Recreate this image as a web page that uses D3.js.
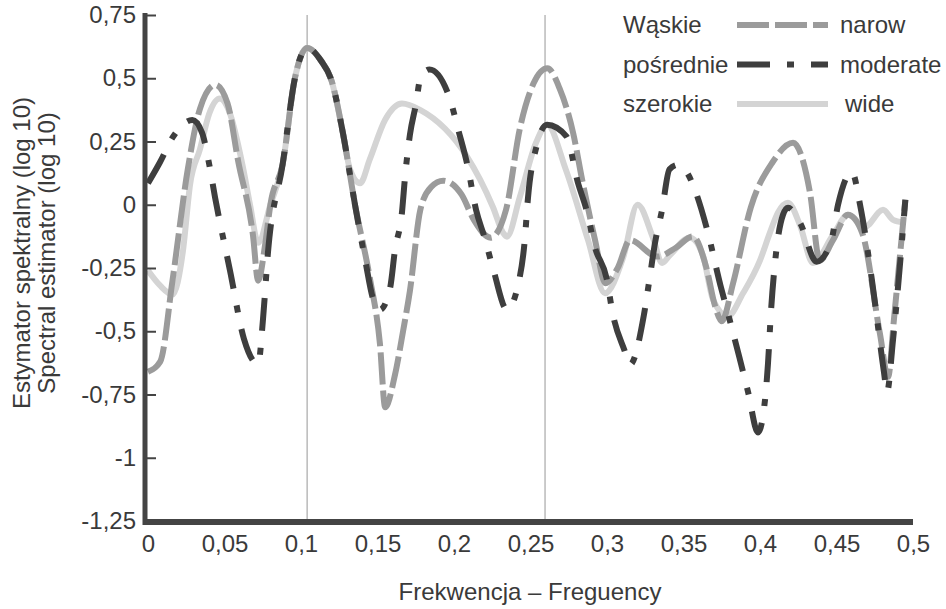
<!DOCTYPE html>
<html>
<head>
<meta charset="UTF-8">
<script src="https://d3js.org/d3.v7.min.js"></script>
<style>
  body { margin: 0; background: #fff; }
  text { font-family: "Liberation Sans", Arial, sans-serif; fill: #3a3a3a; }
</style>
</head>
<body>
<svg id="chart" width="946" height="609"></svg>
<script>
// [frequency, log10 spectral estimate]
var narow = [[0,-0.66],[0.008,-0.62],[0.016,-0.30],[0.026,0.14],[0.034,0.38],[0.044,0.474],[0.052,0.40],
  [0.059,0.17],[0.0686,-0.12],[0.072,-0.30],[0.0765,-0.16],[0.08,0.0],[0.088,0.16],[0.096,0.50],[0.104,0.62],
  [0.113,0.57],[0.12,0.49],[0.1275,0.28],[0.1353,0.0],[0.145,-0.29],[0.1516,-0.55],[0.155,-0.80],[0.1615,-0.67],
  [0.1667,-0.5],[0.1712,-0.34],[0.178,-0.02],[0.185,0.07],[0.193,0.095],[0.205,0.04],[0.213,-0.06],[0.224,-0.13],
  [0.234,-0.02],[0.243,0.30],[0.252,0.48],[0.261,0.54],[0.269,0.46],[0.278,0.28],[0.2837,0.10],[0.2922,-0.14],
  [0.299,-0.31],[0.307,-0.25],[0.315,-0.14],[0.333,-0.205],[0.345,-0.17],[0.356,-0.125],[0.365,-0.25],
  [0.3706,-0.40],[0.375,-0.46],[0.3824,-0.31],[0.394,-0.01],[0.408,0.166],[0.4216,0.245],[0.4327,0.047],
  [0.439,-0.22],[0.4477,-0.14],[0.4575,-0.04],[0.4667,-0.11],[0.4784,-0.51],[0.4837,-0.68],[0.4876,-0.45],
  [0.4915,-0.2],[0.495,0.02]];

var moderate = [[0,0.085],[0.008,0.17],[0.016,0.265],[0.029,0.335],[0.0353,0.285],[0.040,0.16],[0.0438,0.03],
  [0.0536,-0.26],[0.0627,-0.53],[0.072,-0.63],[0.0752,-0.45],[0.0784,-0.19],[0.088,0.16],[0.096,0.50],[0.104,0.62],
  [0.113,0.57],[0.12,0.49],[0.1275,0.28],[0.1353,0.0],[0.142,-0.22],[0.147,-0.37],[0.1516,-0.415],[0.1582,-0.33],
  [0.1614,-0.18],[0.166,-0.03],[0.168,0.11],[0.1712,0.277],[0.1752,0.40],[0.178,0.50],[0.184,0.535],[0.1967,0.43],
  [0.2026,0.30],[0.209,0.15],[0.2144,-0.02],[0.22,-0.13],[0.2261,-0.265],[0.2346,-0.415],[0.2425,-0.30],
  [0.2461,-0.15],[0.2484,0.03],[0.2539,0.23],[0.2608,0.316],[0.2735,0.27],[0.281,0.087],[0.2866,-0.02],
  [0.2922,-0.17],[0.2997,-0.29],[0.3039,-0.435],[0.3114,-0.575],[0.315,-0.632],[0.324,-0.44],[0.328,-0.285],
  [0.3314,-0.15],[0.336,-0.02],[0.3408,0.14],[0.3464,0.158],[0.352,0.13],[0.358,0.05],[0.3655,-0.1],
  [0.3742,-0.32],[0.3804,-0.46],[0.3866,-0.605],[0.3922,-0.74],[0.3987,-0.90],[0.4033,-0.77],[0.4052,-0.63],
  [0.4072,-0.42],[0.4105,-0.19],[0.415,-0.04],[0.4183,-0.012],[0.4261,-0.07],[0.437,-0.225],[0.4464,-0.146],
  [0.451,0.0],[0.46,0.13],[0.4657,-0.01],[0.4732,-0.30],[0.481,-0.66],[0.483,-0.74],[0.487,-0.53],[0.495,0.02]];

var wide = [[0,-0.26],[0.008,-0.32],[0.016,-0.355],[0.0229,-0.18],[0.0275,0.08],[0.034,0.22],[0.040,0.36],
  [0.047,0.42],[0.053,0.37],[0.062,0.15],[0.0667,0.0],[0.072,-0.15],[0.08,0.0],[0.088,0.16],[0.096,0.50],
  [0.104,0.62],[0.113,0.57],[0.12,0.49],[0.1275,0.28],[0.132,0.14],[0.1386,0.085],[0.145,0.18],[0.155,0.336],
  [0.166,0.40],[0.1778,0.375],[0.2085,0.19],[0.217,0.1],[0.2255,-0.01],[0.232,-0.11],[0.2346,-0.126],
  [0.243,0.03],[0.2536,0.245],[0.2608,0.316],[0.273,0.14],[0.2876,-0.14],[0.2987,-0.35],[0.3105,-0.21],
  [0.32,0.0],[0.33,-0.13],[0.336,-0.23],[0.341,-0.2],[0.3542,-0.13],[0.3627,-0.2],[0.3693,-0.375],[0.379,-0.44],
  [0.3889,-0.35],[0.4,-0.22],[0.4065,-0.11],[0.4118,-0.03],[0.4183,0.008],[0.4261,-0.08],[0.4346,-0.23],
  [0.4477,-0.12],[0.4575,-0.04],[0.4686,-0.087],[0.4804,-0.02],[0.487,-0.06],[0.4935,-0.07]];

var xTicks = [0, 0.05, 0.1, 0.15, 0.2, 0.25, 0.3, 0.35, 0.4, 0.45, 0.5];
var yTicks = [0.75, 0.5, 0.25, 0, -0.25, -0.5, -0.75, -1, -1.25];
var markers = [0.104, 0.2595];   // thin vertical reference lines

var legendPl = ["Wąskie", "pośrednie", "szerokie"];
var legendEn = ["narow", "moderate", "wide"];

var svg = d3.select("svg");

var x = d3.scaleLinear().domain([0, 0.5]).range([148, 913]);
var y = d3.scaleLinear().domain([-1.25, 0.75]).range([521, 15]);

var fmt = function(d) { return String(+d.toFixed(2)).replace(".", ","); };

// reference lines
svg.append("g").selectAll("line")
  .data(markers)
  .enter().append("line")
  .attr("x1", d => x(d)).attr("x2", d => x(d))
  .attr("y1", 15).attr("y2", 520)
  .style("stroke", "#a8a8a8").style("stroke-width", 1.2);

// series
var series = [
  { data: wide, color: "#d4d4d4", dash: null },
  { data: narow, color: "#9b9b9b", dash: "32,6" },
  { data: moderate, color: "#3e3e3e", dash: "33,17,7,17" }
];

var line = d3.line()
  .x(d => x(d[0]))
  .y(d => y(d[1]))
  .curve(d3.curveMonotoneX);

svg.append("g").selectAll("path")
  .data(series)
  .enter().append("path")
  .attr("d", d => line(d.data))
  .attr("fill", "none")
  .style("stroke", d => d.color)
  .style("stroke-width", 6)
  .style("stroke-dasharray", d => d.dash);

// y axis
var yAxis = svg.append("g")
  .attr("transform", "translate(145,0)")
  .call(d3.axisLeft(y).tickValues(yTicks).tickFormat(fmt).tickSize(-11).tickSizeOuter(0).tickPadding(9));
yAxis.select(".domain").attr("d", "M0,13V525").style("stroke", "#444").style("stroke-width", 5);
yAxis.selectAll(".tick line").style("stroke", "#444").style("stroke-width", 2);
yAxis.selectAll("text").style("font-size", "24px").style("font-family", null).style("fill", "#3a3a3a");

// x axis
var xAxis = svg.append("g")
  .attr("transform", "translate(0,522)")
  .call(d3.axisBottom(x).tickValues(xTicks).tickFormat(fmt).tickSize(0).tickSizeOuter(0).tickPadding(13));
xAxis.select(".domain").attr("d", "M143,0H913").style("stroke", "#444").style("stroke-width", 6);
xAxis.selectAll("text").style("font-size", "24px").style("fill", "#3a3a3a");
svg.selectAll(".tick text").attr("font-family", null);

// axis titles
svg.append("text")
  .attr("transform", "translate(530,600)")
  .attr("text-anchor", "middle")
  .style("font-size", "24px")
  .text("Frekwencja – Freguency");

var yTitle = svg.append("text")
  .attr("transform", "translate(30,253) rotate(-90)")
  .attr("text-anchor", "middle")
  .style("font-size", "24px");
yTitle.append("tspan").attr("x", 0).attr("y", 0).text("Estymator spektralny (log 10)");
yTitle.append("tspan").attr("x", 0).attr("y", 25).text("Spectral estimator (log 10)");

// legend
var legend = svg.append("g").selectAll("g")
  .data([series[1], series[2], series[0]])
  .enter().append("g")
  .attr("transform", (d, i) => "translate(0," + (25 + i * 39.5) + ")");

legend.append("line")
  .attr("x1", 737).attr("x2", 828)
  .style("stroke", d => d.color)
  .style("stroke-width", 6)
  .style("stroke-dasharray", d => d.dash);

legend.append("text")
  .attr("x", 623).attr("y", 8)
  .style("font-size", "24px")
  .text((d, i) => legendPl[i]);

legend.append("text")
  .attr("x", (d, i) => i == 2 ? 845 : 840).attr("y", 8)
  .style("font-size", "24px")
  .text((d, i) => legendEn[i]);
</script>
</body>
</html>
